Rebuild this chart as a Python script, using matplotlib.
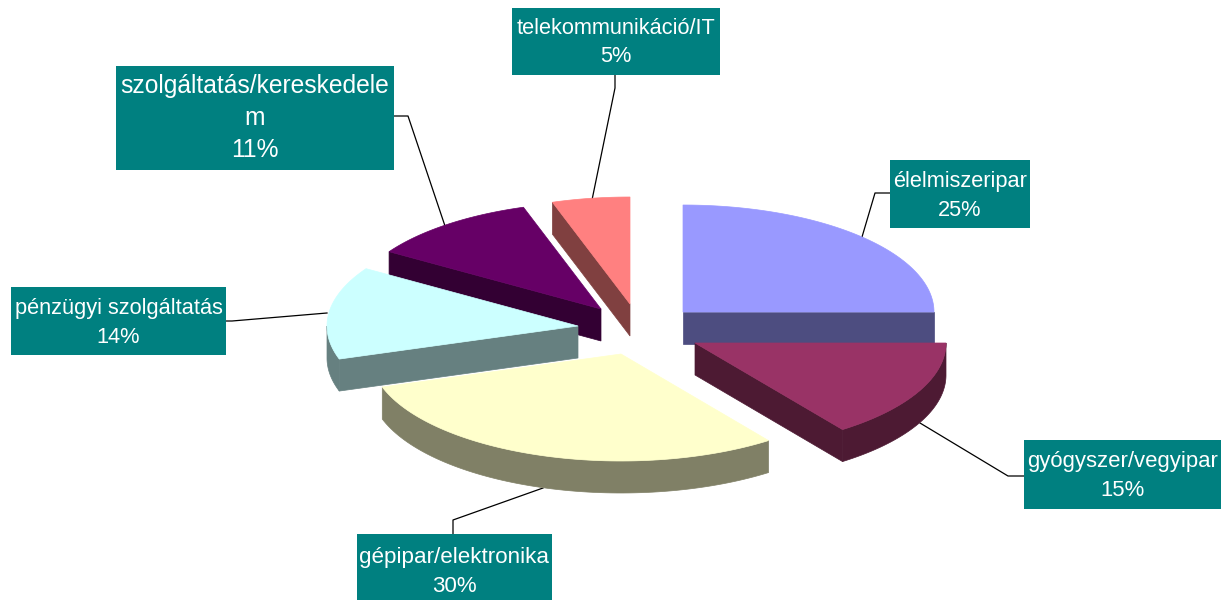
import numpy as np
import matplotlib
matplotlib.use('Agg')
import matplotlib.pyplot as plt
from matplotlib.patches import Polygon, Rectangle

# data
labels = ['élelmiszeripar', 'gyógyszer/vegyipar', 'gépipar/elektronika',
          'pénzügyi szolgáltatás', 'szolgáltatás/kereskedele\nm', 'telekommunikáció/IT']
shares = [25, 15, 30, 14, 11, 5]
top_colors = ['#9999FF', '#993366', '#FFFFCC', '#CCFFFF', '#660066', '#FF8080']
side_colors = ['#4D4D80', '#4D1A33', '#808066', '#668080', '#330033', '#804040']

# layout, in pixels of the picture
centre = (637, 331)
rx, ry, depth = 251, 107, 32
explode = [(46, -19), (58, 12), (-16, 23), (-59, -5), (-36, -22), (-7, -27)]
draw_order = [5, 4, 0, 3, 1, 2]
boxes = [(890, 160, 140, 68), (1024, 440, 197, 69), (357, 534, 195, 66),
         (11, 287, 215, 68), (116, 66, 278, 104), (512, 8, 208, 67)]
font_sizes = [15.7, 15.9, 16.1, 15.7, 17.7, 15.7]
line_gaps = [1.5, 1.5, 1.5, 1.5, 1.4, 1.5]
text_shift = [2, 2, 5, 2, 0, 1]
leaders = [[(890, 193), (875, 193), (862, 237)],
           [(1024, 476), (1008, 476), (920, 423)],
           [(453, 534), (453, 520), (543, 488)],
           [(226, 321), (232, 321), (327, 313)],
           [(394, 116), (408, 116), (445, 226)],
           [(615, 75), (615, 88), (592, 200)]]


def arc(apex, t1, t2, n=80):
    t = np.radians(np.linspace(t1, t2, n))
    return np.column_stack([apex[0] + rx * np.cos(t), apex[1] - ry * np.sin(t)])


def draw_slice(ax, idx, t1, t2):
    apex = (centre[0] + explode[idx][0], centre[1] + explode[idx][1])
    side = side_colors[idx]
    down = np.array([0, depth])
    # cut faces turned towards the viewer
    for t, visible in [(t1, np.cos(np.radians(t1)) < -1e-9), (t2, np.cos(np.radians(t2)) > 1e-9)]:
        if visible:
            end = arc(apex, t, t, 1)[0]
            quad = [apex, end, end + down, np.array(apex) + down]
            ax.add_patch(Polygon(quad, closed=True, fc=side, ec=side, lw=0.5))
    # outer rim, only its lower half shows
    lo, hi = max(t2, -180), min(t1, 0)
    if hi > lo:
        rim = arc(apex, hi, lo)
        pts = np.vstack([rim, rim[::-1] + down])
        ax.add_patch(Polygon(pts, closed=True, fc=side, ec=side, lw=0.5))
    pts = np.vstack([[apex], arc(apex, t1, t2)])
    ax.add_patch(Polygon(pts, closed=True, fc=top_colors[idx], ec=top_colors[idx], lw=0.5))


fig = plt.figure(figsize=(12.21, 6), dpi=100)
ax = fig.add_axes([0, 0, 1, 1])
ax.set_xlim(0, 1221)
ax.set_ylim(600, 0)
ax.axis('off')

# start at 12 o'clock and go clockwise
edges = 90 - np.cumsum([0] + shares) * 3.6

for pts in leaders:
    xs, ys = zip(*pts)
    ax.plot(xs, ys, color='black', lw=0.9, zorder=1)

for idx in draw_order:
    draw_slice(ax, idx, edges[idx], edges[idx + 1])

for idx, (x, y, w, h) in enumerate(boxes):
    ax.add_patch(Rectangle((x, y), w, h, fc='#008080', ec='none', zorder=3))
    ax.text(x + w / 2, y + h / 2 + text_shift[idx], '%s\n%d%%' % (labels[idx], shares[idx]),
            color='white', ha='center', va='center', family='Liberation Sans',
            fontsize=font_sizes[idx], linespacing=line_gaps[idx], zorder=4)

fig.savefig('out.png', dpi=100)
